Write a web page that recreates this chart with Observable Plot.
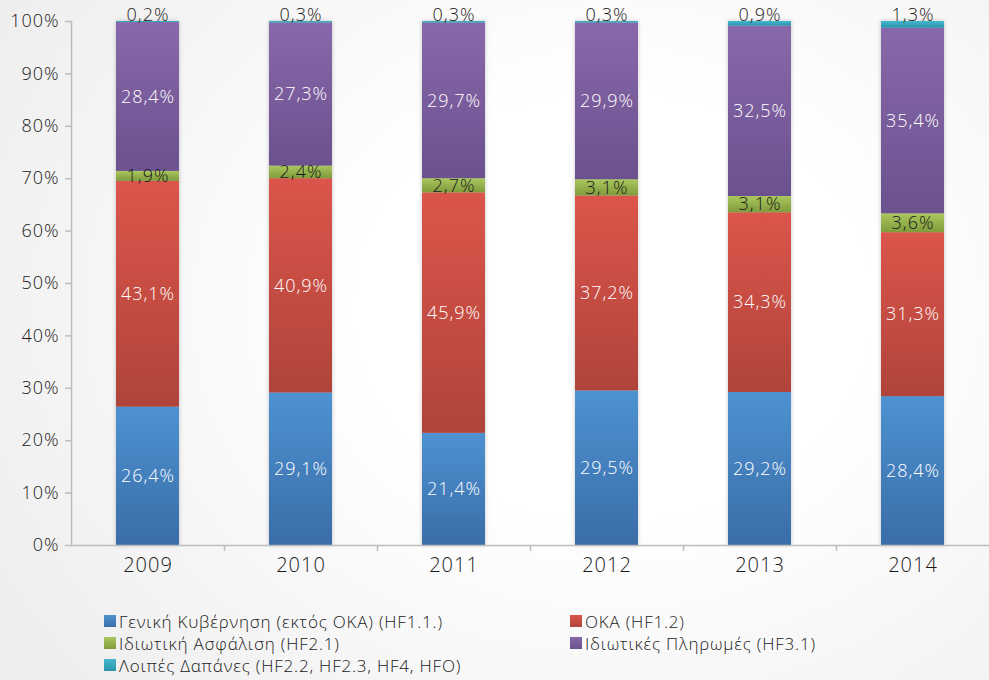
<!DOCTYPE html>
<html>
<head>
<meta charset="utf-8">
<script src="https://cdn.jsdelivr.net/npm/d3@7"></script>
<script src="https://cdn.jsdelivr.net/npm/@observablehq/plot@0.6"></script>
<style>
  html, body { margin: 0; padding: 0; }
  body {
    width: 989px; height: 680px; overflow: hidden; position: relative;
    background: radial-gradient(ellipse 75% 90% at 62% 45%, #ffffff 35%, #ededed 100%);
    font-family: "Open Sans", sans-serif;
  }
  #chart { position: absolute; left: 0; top: 0; }
  #chart svg { background: transparent; overflow: visible; }
  #chart svg text { letter-spacing: 1px; font-weight: 300; }
  g[aria-label="bar"] { filter: drop-shadow(0 0 2px rgba(0,0,0,0.22)); }
  #legend {
    position: absolute; left: 104px; top: 613px;
    display: grid; grid-template-columns: 466px 360px; row-gap: 5px;
    font-size: 17px; font-weight: 300; letter-spacing: 0.8px; color: #1a1a1a; line-height: 17px;
  }
  .item { display: flex; align-items: center; white-space: nowrap; }
  .sw { width: 12px; height: 12px; margin-right: 3px; margin-top: -1px; }
</style>
</head>
<body>
<div id="chart"></div>
<div id="legend"></div>
<script>
const years = ["2009", "2010", "2011", "2012", "2013", "2014"];
const seriesNames = [
  "Γενική Κυβέρνηση (εκτός ΟΚΑ) (HF1.1.)",
  "ΟΚΑ (HF1.2)",
  "Ιδιωτική Ασφάλιση (HF2.1)",
  "Ιδιωτικές Πληρωμές (HF3.1)",
  "Λοιπές Δαπάνες (HF2.2, HF2.3, HF4, HFO)"
];
const generalGov   = [26.4, 29.1, 21.4, 29.5, 29.2, 28.4];
const oka          = [43.1, 40.9, 45.9, 37.2, 34.3, 31.3];
const privateIns   = [1.9, 2.4, 2.7, 3.1, 3.1, 3.6];
const privatePay   = [28.4, 27.3, 29.7, 29.9, 32.5, 35.4];
const otherExp     = [0.2, 0.3, 0.3, 0.3, 0.9, 1.3];
const yTicks = [0, 10, 20, 30, 40, 50, 60, 70, 80, 90, 100];

const seriesValues = [generalGov, oka, privateIns, privatePay, otherExp];
const gradStops = [
  ["#4d92d1", "#3a6da8"],
  ["#db554b", "#b0443a"],
  ["#aac75e", "#7f9b3c"],
  ["#8868aa", "#6b518e"],
  ["#46b8cf", "#2b93aa"]
];
const labelColors = ["#ffffff", "#ffffff", "#1a1a1a", "#ffffff", "#1a1a1a"];

// build stacked table
const rows = [];
years.forEach((year, j) => {
  let c = 0;
  seriesValues.forEach((vals, k) => {
    const v = vals[j];
    rows.push({year, k, series: seriesNames[k], value: v, y1: c, y2: c + v, mid: c + v / 2,
      fill: `url(#grad${k})`, label: v.toFixed(1).replace(".", ",") + "%"});
    c += v;
  });
});
const innerRows = rows.filter(d => d.k < 4);
const topRows = rows.filter(d => d.k === 4);

const W = 989, ML = 71;
const step = (W - ML) / years.length;

const plot = Plot.plot({
  width: W, height: 600,
  marginLeft: ML, marginRight: 0, marginTop: 21, marginBottom: 55,
  style: {fontFamily: "Open Sans, sans-serif", background: "transparent", color: "#222"},
  x: {domain: years, paddingInner: 0.59, paddingOuter: 0.295},
  y: {domain: [0, 100]},
  color: {type: "identity"},
  marks: [
    Plot.barY(rows, {x: "year", y1: "y1", y2: "y2", fill: "fill"}),
    Plot.frame({anchor: "left", stroke: "#bdbdbd", strokeWidth: 1.5}),
    Plot.ruleY([0], {stroke: "#bdbdbd", strokeWidth: 1.5}),
    Plot.axisY({ticks: yTicks, tickFormat: d => d + "%", tickSize: 6, tickPadding: 6,
      stroke: "#bdbdbd", strokeWidth: 1.5, fontSize: 18, fill: "#1a1a1a", label: null}),
    Plot.axisX({ticks: years.slice(1), tickFormat: () => "", tickSize: 6, dx: -step / 2,
      stroke: "#bdbdbd", strokeWidth: 1.5, label: null}),
    Plot.axisX({tickSize: 0, tickPadding: 12, fontSize: 20, fill: "#1a1a1a", label: null}),
    Plot.text(innerRows, {x: "year", y: "mid", text: "label", fill: d => labelColors[d.k], fontSize: 18}),
    Plot.text(topRows, {x: "year", y: "y2", text: "label", fill: d => labelColors[d.k], fontSize: 18,
      lineAnchor: "bottom", dy: -1})
  ]
});

// gradient definitions
const svg = d3.select(plot);
const defs = svg.insert("defs", ":first-child");
gradStops.forEach((s, k) => {
  const g = defs.append("linearGradient").attr("id", "grad" + k)
    .attr("x1", 0).attr("y1", 0).attr("x2", 0).attr("y2", 1);
  g.append("stop").attr("offset", "0%").attr("stop-color", s[0]);
  g.append("stop").attr("offset", "100%").attr("stop-color", s[1]);
});
document.getElementById("chart").appendChild(plot);

// legend
const legend = d3.select("#legend");
seriesNames.forEach((name, k) => {
  const it = legend.append("div").attr("class", "item");
  it.append("div").attr("class", "sw")
    .style("background", `linear-gradient(${gradStops[k][0]}, ${gradStops[k][1]})`);
  it.append("span").text(name);
});
</script>
</body>
</html>
